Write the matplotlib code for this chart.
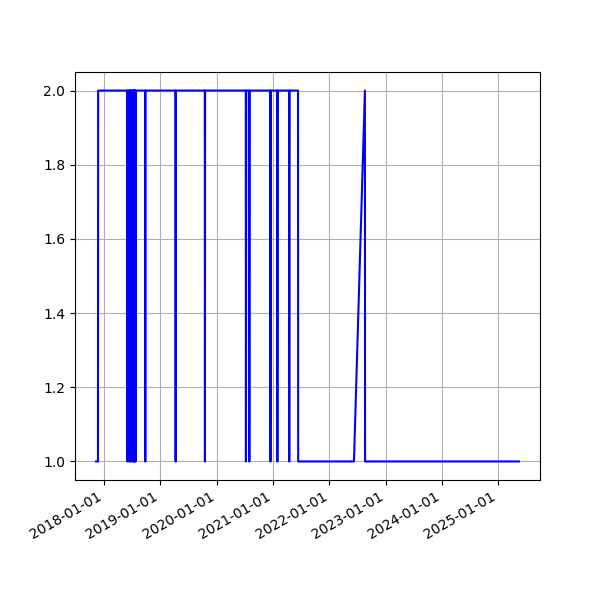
import pandas as pd
import matplotlib
matplotlib.use('Agg')
import matplotlib.pyplot as plt
import matplotlib.dates as mdates

# tanggal dan nilai
dates = [
    '2017-11-10', '2017-11-22', '2017-11-23',
    '2018-05-31', '2018-06-01', '2018-06-02',
    '2018-06-12', '2018-06-13', '2018-06-14',
    '2018-06-17', '2018-06-18', '2018-06-19',
    '2018-06-23', '2018-06-24', '2018-06-25',
    '2018-07-03', '2018-07-04', '2018-07-05',
    '2018-07-08', '2018-07-09', '2018-07-10',
    '2018-07-13', '2018-07-14', '2018-07-15',
    '2018-07-18', '2018-07-19', '2018-07-20',
    '2018-07-23', '2018-07-24', '2018-07-25',
    '2018-09-24', '2018-09-25', '2018-09-26',
    '2019-04-09', '2019-04-10', '2019-04-11',
    '2019-10-16', '2019-10-17', '2019-10-18',
    '2020-07-08', '2020-07-09', '2020-07-11',
    '2020-07-30', '2020-07-31', '2020-08-02',
    '2020-12-14', '2020-12-15', '2020-12-17',
    '2021-01-28', '2021-01-29', '2021-01-31',
    '2021-04-15', '2021-04-16', '2021-04-18',
    '2021-06-12', '2021-06-13',
    '2022-06-10', '2022-08-20', '2022-08-21',
    '2025-05-15',
]
values = [
    1, 1, 2,
    2, 1, 2,
    2, 1, 2,
    2, 1, 2,
    2, 1, 2,
    2, 1, 2,
    2, 1, 2,
    2, 1, 2,
    2, 1, 2,
    2, 1, 2,
    2, 1, 2,
    2, 1, 2,
    2, 1, 2,
    2, 1, 2,
    2, 1, 2,
    2, 1, 2,
    2, 1, 2,
    2, 1, 2,
    2, 1,
    1, 2, 1,
    1,
]

x = pd.to_datetime(dates)

fig, ax = plt.subplots(figsize=(6, 6), dpi=100)
ax.plot(x, values, color='blue')
ax.xaxis.set_major_formatter(mdates.DateFormatter('%Y-%m-%d'))
ax.grid(True)
fig.autofmt_xdate()

plt.savefig('out.png', dpi=100)
